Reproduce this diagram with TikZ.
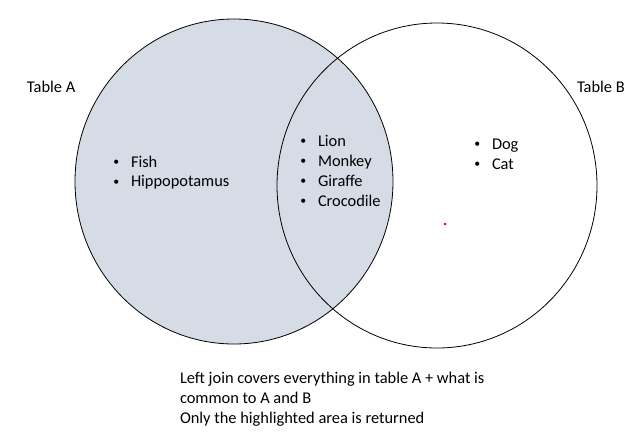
\documentclass[tikz,border=0pt]{standalone}
\usepackage{fontspec}
\setmainfont{Carlito}
\usetikzlibrary{shapes.geometric}
\definecolor{hilite}{RGB}{214,220,229}
\newcommand{\bul}{\makebox[18.5pt][l]{\hspace{0.8pt}\raisebox{1.4pt}{\scalebox{0.72}{\textbullet}}}}
\begin{document}
\begin{tikzpicture}[x=1pt,y=-1pt,
  venn/.style={ellipse,draw=black,line width=0.8pt,inner sep=0pt,outer sep=0pt},
  txt/.style={inner sep=0pt,outer sep=0pt,anchor=base west,font=\fontsize{16.4}{19.7}\selectfont}]
\path[use as bounding box] (0,0) rectangle (634,437);
% the two tables
\node[venn,fill=hilite,minimum width=318pt,minimum height=325pt] (tableA) at (234,181.5) {};
\node[venn,minimum width=320pt,minimum height=325pt] (tableB) at (437,185.5) {};
\node[circle,fill=red,inner sep=0pt,minimum size=3pt] (dot) at (445,224) {};
% table names
\node[txt] (nameA) at (27,92) {Table A};
\node[txt] (nameB) at (577,92) {Table B};
% only in A
\node[txt] (fish) at (112.5,167) {\bul Fish};
\node[txt] (hippo) at (112.5,186.5) {\bul Hippopotamus};
% common to A and B
\node[txt] (lion) at (299.5,146) {\bul Lion};
\node[txt] (monkey) at (299.5,166) {\bul Monkey};
\node[txt] (giraffe) at (299.5,186) {\bul Giraffe};
\node[txt] (croc) at (299.5,206) {\bul Crocodile};
% only in B
\node[txt] (dog) at (473.5,149) {\bul Dog};
\node[txt] (cat) at (473.5,169) {\bul Cat};
% caption
\node[txt] (cap1) at (180,383) {Left join covers everything in table A + what is};
\node[txt] (cap2) at (180,403) {common to A and B};
\node[txt] (cap3) at (180,423) {Only the highlighted area is returned};
\end{tikzpicture}
\end{document}
